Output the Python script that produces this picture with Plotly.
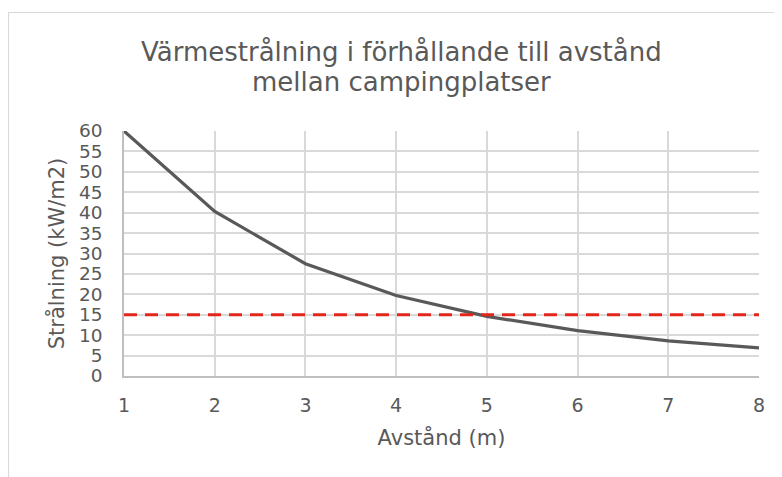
import plotly.graph_objects as go

avstand = [1, 2, 3, 4, 5, 6, 7, 8]
stralning = [60, 40.3, 27.5, 19.7, 14.6, 11.1, 8.6, 6.9]
grans = [15, 15, 15, 15, 15, 15, 15, 15]
titel_rader = ["Värmestrålning i förhållande till avstånd", "mellan campingplatser"]

W, H = 782, 477
L, T = 116, 123
pw, ph = 635, 245
R, B = W - L - pw, H - T - ph

def px(x):
    return (x - L) / pw

def py(y):
    return (T + ph - y) / ph

fig = go.Figure()
fig.add_trace(go.Scatter(x=avstand, y=stralning, mode="lines",
                         line=dict(color="#595959", width=3.2), showlegend=False))
fig.add_trace(go.Scatter(x=avstand, y=grans, mode="lines",
                         line=dict(color="#e3261c", width=3.2, dash="13px,8px"), showlegend=False))

font = "DejaVu Sans"
grey = "#595959"
fig.update_layout(
    width=W, height=H,
    margin=dict(l=L, r=R, t=T, b=B),
    paper_bgcolor="white", plot_bgcolor="white",
    font=dict(family=font, color=grey),
    xaxis=dict(range=[1, 8], dtick=1, tick0=1, showgrid=True, gridcolor="#d9d9d9", gridwidth=1.5,
               showline=True, linecolor="#bfbfbf", linewidth=1.5, zeroline=False,
               ticks="", ticklabelstandoff=11, tickfont=dict(size=19, color=grey),
               title=dict(text="Avstånd (m)", font=dict(size=21, color=grey), standoff=16)),
    yaxis=dict(range=[0, 60], dtick=5, showgrid=True, gridcolor="#d9d9d9", gridwidth=1.5,
               showline=True, linecolor="#bfbfbf", linewidth=1.5, zeroline=False,
               ticks="", ticklabelstandoff=16, tickfont=dict(size=18.5, color=grey),
               title=dict(text="Strålning (kW/m2)", font=dict(size=21, color=grey), standoff=9)),
)

for rad, yc in zip(titel_rader, [44, 74]):
    fig.add_annotation(text=rad, xref="paper", yref="paper", x=px(393), y=py(yc),
                       xanchor="center", yanchor="middle", showarrow=False,
                       font=dict(family=font, size=26, color=grey))

fig.add_shape(type="rect", xref="paper", yref="paper",
              x0=px(0.5), x1=1.2, y0=-0.6, y1=py(4.5),
              line=dict(color="#d9d9d9", width=1.2), fillcolor="rgba(0,0,0,0)", layer="below")

fig.write_html("out.html")
